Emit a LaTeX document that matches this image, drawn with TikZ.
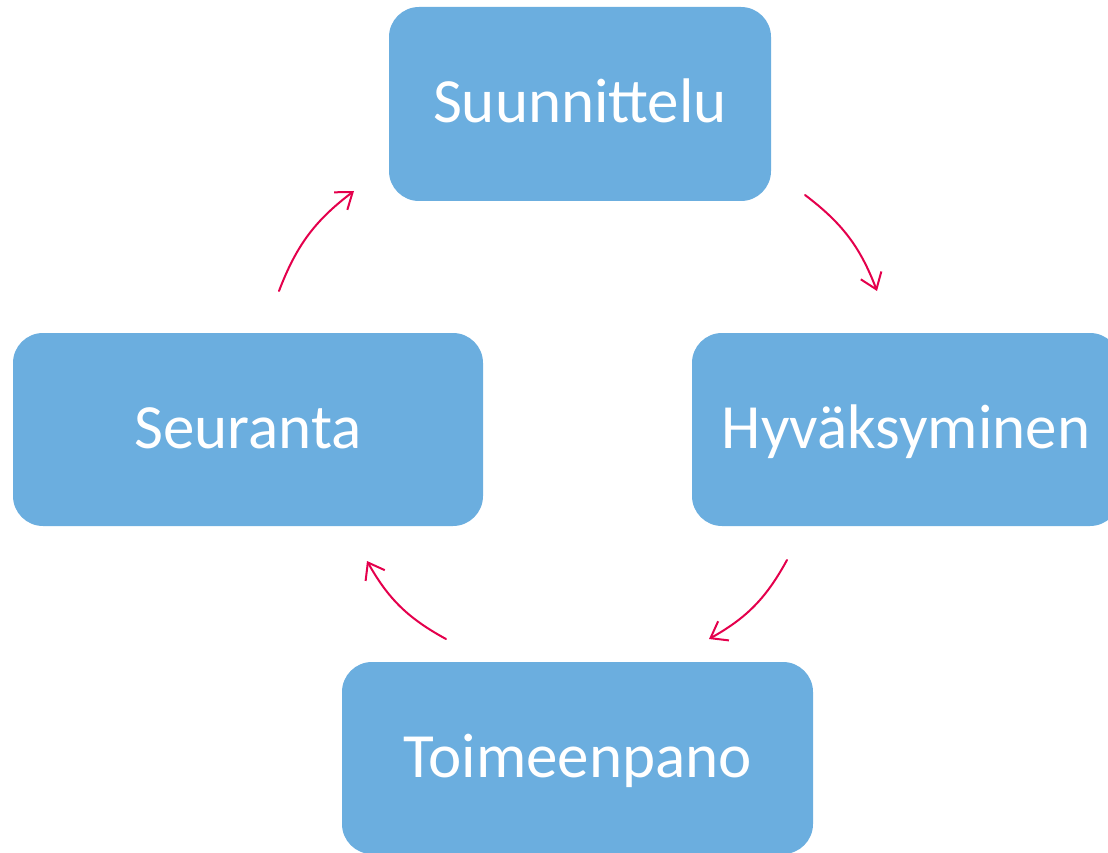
\documentclass[tikz,border=0pt]{standalone}
\usepackage{fontspec}
\setmainfont{Carlito}
\usetikzlibrary{arrows.meta}
\definecolor{boxblue}{RGB}{107,174,223}
\definecolor{arrowred}{RGB}{228,0,76}
\tikzset{
  stage/.style={fill=boxblue, draw=none, rounded corners=30pt, text=white,
    font=\fontsize{63pt}{70pt}\selectfont, text height=38pt, text depth=0pt,
    inner sep=0pt},
  flow/.style={draw=arrowred, line width=2pt, line cap=round,
    -{Straight Barb[length=15pt, width=22pt, line width=2pt]}},
}
\begin{document}
\begin{tikzpicture}[x=1pt, y=-1pt]
\useasboundingbox (0,0) rectangle (1108,853);
\clip (0,0) rectangle (1108,853);
\node[stage, minimum width=382pt, minimum height=194pt] (suun) at (580,104) {Suunnittelu};
\node[stage, minimum width=428pt, minimum height=193pt] (hyva) at (906,429.5) {Hyväksyminen};
\node[stage, minimum width=470pt, minimum height=193pt] (seur) at (248,429.5) {Seuranta};
\node[stage, minimum width=471pt, minimum height=192pt] (toim) at (577.5,758) {Toimeenpano};
\coordinate (a1s) at (805,195);
\coordinate (a1e) at (877,291);
\coordinate (a2s) at (787,560);
\coordinate (a2e) at (709,639);
\coordinate (a3s) at (446,639);
\coordinate (a3e) at (367,561);
\coordinate (a4s) at (279,291);
\coordinate (a4e) at (354,191);
\draw[flow] (a1s) to[bend left=16] (a1e);
\draw[flow] (a2s) to[bend left=16] (a2e);
\draw[flow] (a3s) to[bend left=16] (a3e);
\draw[flow] (a4s) to[bend left=16] (a4e);
\end{tikzpicture}
\end{document}
